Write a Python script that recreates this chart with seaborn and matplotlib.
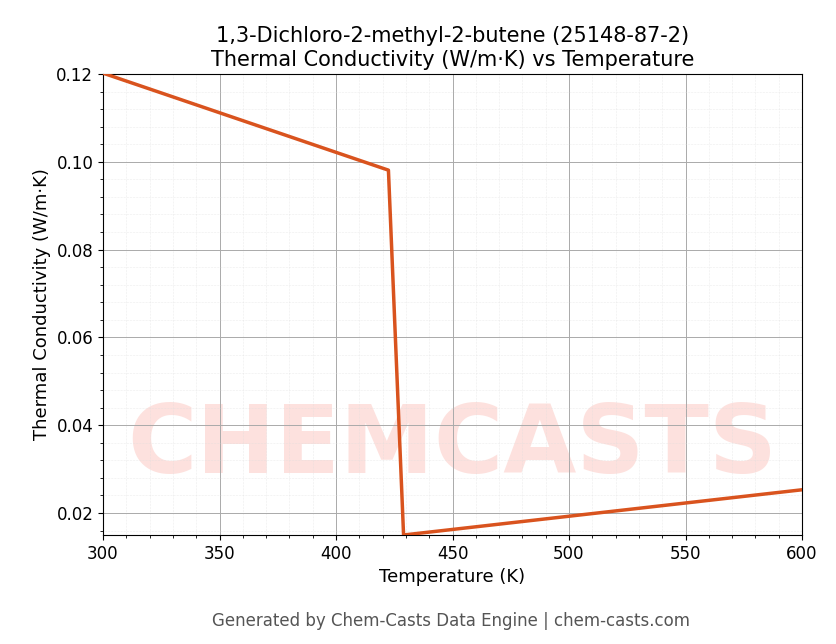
import matplotlib
matplotlib.use("Agg")
import matplotlib.pyplot as plt
import seaborn as sns
import pandas as pd
from matplotlib.ticker import AutoMinorLocator

temperature = [300, 422.5, 429, 600]
conductivity = [0.1202, 0.0981, 0.0150, 0.0253]
df = pd.DataFrame({"T": temperature, "k": conductivity})

sns.set_style("ticks")
plt.rcParams['font.family'] = ['DejaVu Sans']
plt.rcParams['font.sans-serif'] = ['DejaVu Sans']
plt.rcParams['text.color'] = 'black'
plt.rcParams['axes.labelcolor'] = 'black'
plt.rcParams['xtick.color'] = 'black'
plt.rcParams['ytick.color'] = 'black'
fig = plt.figure(figsize=(8.36, 6.44), dpi=100)
ax = fig.add_axes([103/836, 1-535/644, 699/836, 461/644])

ax.text(0.5, 0.19, "CHEMCASTS", transform=ax.transAxes, ha="center", va="center",
        fontsize=68, fontweight="bold", color="#fdd5d0", alpha=0.7, zorder=0, clip_on=True)

sns.lineplot(data=df, x="T", y="k", ax=ax, color="#d9531e", linewidth=2.5, zorder=3)
ax.set_xlim(300, 600)
ax.set_ylim(0.015, 0.12)
ax.set_yticks([0.02, 0.04, 0.06, 0.08, 0.10, 0.12])
ax.set_yticklabels(["0.02", "0.04", "0.06", "0.08", "0.10", "0.12"])
ax.xaxis.set_minor_locator(AutoMinorLocator(5))
ax.yaxis.set_minor_locator(AutoMinorLocator(5))
ax.grid(which="major", color="#aaaaaa", linewidth=0.7)
ax.grid(which="minor", color="#dddddd", linewidth=0.4, linestyle=":")
ax.tick_params(labelsize=12, colors="black")
for s in ax.spines.values():
    s.set_color("black")
ax.set_xlabel("Temperature (K)", fontsize=13, labelpad=4)
ax.set_ylabel("Thermal Conductivity (W/m·K)", fontsize=13)
ax.set_title("1,3-Dichloro-2-methyl-2-butene (25148-87-2)\nThermal Conductivity (W/m·K) vs Temperature", fontsize=15, color="black")
fig.text(0.54, 0.028, "Generated by Chem-Casts Data Engine | chem-casts.com", ha="center", fontsize=12, color="#555555")
fig.savefig("out.png", dpi=100)
